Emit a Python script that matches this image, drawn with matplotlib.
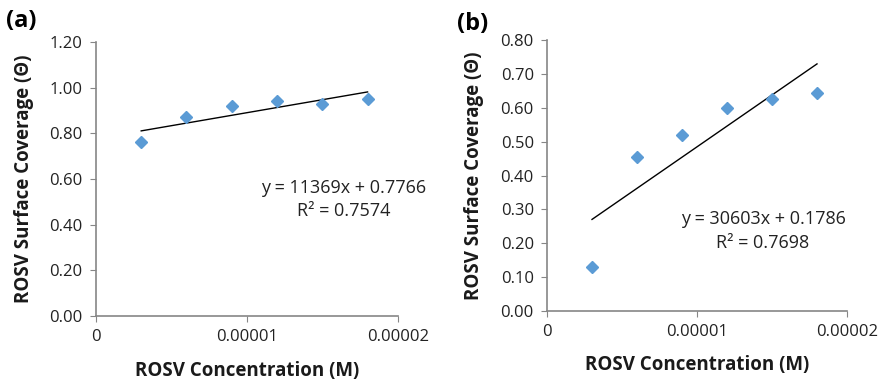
import numpy as np
import matplotlib
matplotlib.use("Agg")
import matplotlib.pyplot as plt

plt.rcParams['font.family'] = ['Open Sans', 'DejaVu Sans']

conc = [3e-6, 6e-6, 9e-6, 1.2e-5, 1.5e-5, 1.8e-5]
cov_a = [0.76, 0.87, 0.92, 0.94, 0.93, 0.95]
cov_b = [0.13, 0.455, 0.52, 0.60, 0.625, 0.645]
slope_a, icpt_a, r2_a = 11369, 0.7766, 0.7574
slope_b, icpt_b, r2_b = 30603, 0.1786, 0.7698
xticks = [0, 0.00001, 0.00002]
xtick_labels = ["0", "0.00001", "0.00002"]
yticks_a = [0, 0.2, 0.4, 0.6, 0.8, 1.0, 1.2]
yticks_b = [0, 0.1, 0.2, 0.3, 0.4, 0.5, 0.6, 0.7, 0.8]

grey = "#868686"
blue = "#5B9BD5"

fig = plt.figure(figsize=(8.8, 3.81), dpi=100)
ax_a = fig.add_axes([0.109, 0.1706, 0.343, 0.7192])
ax_b = fig.add_axes([0.6216, 0.1837, 0.3409, 0.7113])


def panel(ax, cov, slope, icpt, r2, yticks, eq_xy, letter, letter_xy,
          xpad, ypad):
    ax.plot(conc, cov, linestyle="none", marker="D", markersize=6.5,
            color=blue, zorder=3)
    xs = np.array([conc[0], conc[-1]])
    ax.plot(xs, slope * xs + icpt, color="black", linewidth=1)
    ax.set_xlim(0, 0.00002)
    ax.set_ylim(yticks[0], yticks[-1])
    ax.set_xticks(xticks)
    ax.set_xticklabels(xtick_labels)
    ax.set_yticks(yticks)
    ax.set_yticklabels(["%.2f" % v for v in yticks])
    for s in ["top", "right"]:
        ax.spines[s].set_visible(False)
    for s in ["left", "bottom"]:
        ax.spines[s].set_color(grey)
        ax.spines[s].set_linewidth(1.2)
    ax.tick_params(direction="out", length=4.5, color=grey, labelsize=12,
                   labelcolor="#222222")
    ax.tick_params(axis="y", pad=5)
    ax.tick_params(axis="x", pad=4.5)
    ax.set_xlabel("ROSV Concentration (M)", fontsize=13.5, fontweight="bold",
                  labelpad=xpad, color="#1a1a1a")
    ax.set_ylabel("ROSV Surface Coverage (\u0398)", fontsize=13.5,
                  fontweight="bold", labelpad=ypad, color="#1a1a1a")
    ax.text(eq_xy[0], eq_xy[1],
            "y = %dx + %.4f\nR\u00b2 = %.4f" % (slope, icpt, r2),
            transform=ax.transAxes, ha="center", va="center",
            fontsize=13, color="#222222", linespacing=1.4)
    fig.text(letter_xy[0], letter_xy[1], letter, fontsize=17,
             fontweight="bold", ha="left", va="center")


panel(ax_a, cov_a, slope_a, icpt_a, r2_a, yticks_a, (0.82, 0.425),
      "(a)", (0.007, 0.945), 12, 11)
panel(ax_b, cov_b, slope_b, icpt_b, r2_b, yticks_b, (0.72, 0.295),
      "(b)", (0.519, 0.937), 11, 12)

fig.savefig("out.png", dpi=100)
